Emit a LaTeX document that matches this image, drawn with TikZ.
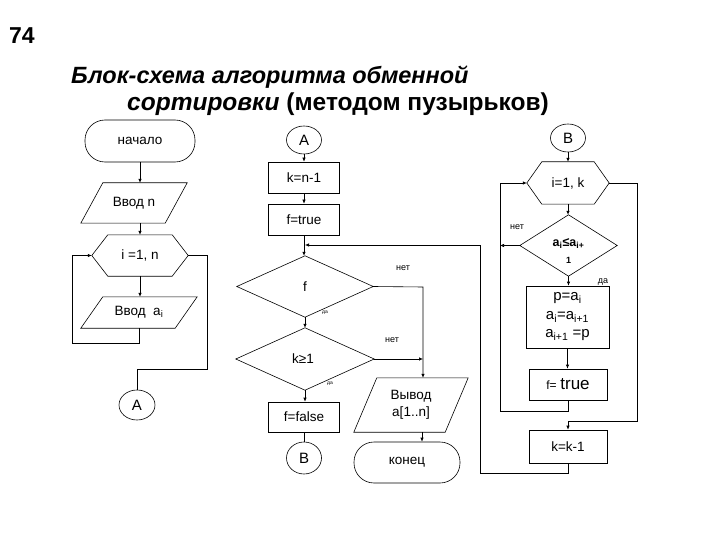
\documentclass[tikz,border=0pt]{standalone}
\usepackage{fontspec}
\setmainfont{Liberation Sans}
\usetikzlibrary{shapes.geometric,arrows.meta}
\newcommand\drawpar[2]{\draw[ln] ([xshift=#2]#1.north west) -- (#1.north east) -- ([xshift=-#2]#1.south east) -- (#1.south west) -- cycle;}
\newcommand\drawhex[2]{\draw[ln] (#1.west) -- ([xshift=#2]#1.north west) -- ([xshift=-#2]#1.north east) -- (#1.east) -- ([xshift=-#2]#1.south east) -- ([xshift=#2]#1.south west) -- cycle;}
\newcommand\drawdia[1]{\draw[ln] (#1.north) -- (#1.east) -- (#1.south) -- (#1.west) -- cycle;}
\tikzset{
  ln/.style={line width=0.6pt},
  arr/.style={ln,-{Latex[length=4pt,width=3.4pt]}},
  bfont/.style={font=\fontsize{13.5}{17}\selectfont},
  blk/.style={draw,ln,rectangle,inner sep=0pt,align=center,bfont},
  term/.style={blk,rounded corners=20pt},
  ghost/.style={rectangle,inner sep=0pt,align=center,bfont},
  conn/.style={draw,ln,ellipse,inner sep=0pt,font=\fontsize{15}{17}\selectfont},
  lbl/.style={inner sep=0pt,font=\fontsize{9}{10}\selectfont},
  tinylbl/.style={inner sep=0pt,font=\fontsize{5}{6}\selectfont},
}
\begin{document}
\begin{tikzpicture}[x=1pt,y=-1pt]
\useasboundingbox (0,0) rectangle (720,540);
% titles
\node[anchor=west,inner sep=0pt,font=\bfseries\fontsize{23}{26}\selectfont] (num) at (9,36) {74};
\node[anchor=west,inner sep=0pt,font=\bfseries\itshape\fontsize{23.5}{27}\selectfont] (t1) at (71,77) {Блок-схема алгоритма обменной};
\node[anchor=west,inner sep=0pt,font=\bfseries\fontsize{24.5}{27}\selectfont] (t2) at (127,104) {{\itshape сортировки} (методом пузырьков)};

% left column
\node[term,minimum width=110pt,minimum height=42pt] (start) at (140,141) {начало};
\node[ghost,minimum width=106pt,minimum height=40pt] (inN) at (134,203) {Ввод n};
\drawpar{inN}{22pt}
\node[ghost,minimum width=96pt,minimum height=41pt] (hexL) at (140,255.5) {i =1, n};
\drawhex{hexL}{16pt}
\node[ghost,minimum width=116pt,minimum height=31pt] (inA) at (139,312.5) {Ввод\ \ a\textsubscript{i}};
\drawpar{inA}{22pt}
\node[conn,minimum width=36pt,minimum height=30pt] (conA1) at (137,405) {A};
\coordinate (lpB) at (72,343);
\coordinate (rA) at (207,369);

% middle column
\node[conn,minimum width=35pt,minimum height=28pt] (conA2) at (304,140) {A};
\node[blk,minimum width=71pt,minimum height=31pt] (kn1) at (304,177.5) {k=n-1};
\node[blk,minimum width=71pt,minimum height=31pt] (ftrue) at (304,219.5) {f=true};
\node[ghost,minimum width=136pt,minimum height=61pt] (dF) at (305,286.5) {f};
\drawdia{dF}
\node[ghost,minimum width=138pt,minimum height=62pt] (dK) at (305,359) {k≥1\hspace*{4pt}};
\drawdia{dK}
\node[blk,minimum width=71pt,minimum height=30pt] (ffalse) at (304,417) {f=false};
\node[conn,minimum width=35pt,minimum height=32pt] (conB1) at (304,458) {B};
\node[ghost,minimum width=114pt,minimum height=54pt] (out) at (411,405) {Вывод\\a[1..n]};
\drawpar{out}{23pt}
\node[term,minimum width=106pt,minimum height=41pt] (end) at (407,462.5) {конец};
\coordinate (vx) at (423,287);
\coordinate (ret) at (480,245);
\coordinate (kkb) at (480,473);

% right column
\node[conn,minimum width=35pt,minimum height=28pt] (conB2) at (568,138) {B};
\node[ghost,minimum width=82pt,minimum height=42pt] (hexR) at (568,183) {i=1, k};
\drawhex{hexR}{15pt}
\node[ghost,minimum width=97pt,minimum height=61pt] (dA) at (568.5,245.5) {};
\drawdia{dA}
\node[inner sep=0pt,align=center,font=\bfseries\fontsize{12.5}{17}\selectfont] (dAt) at (568.5,251) {a\textsubscript{i}≤a\textsubscript{i+}\\{\fontsize{9}{10}\selectfont 1}};
\node[blk,minimum width=83pt,minimum height=62pt,font=\fontsize{15}{18.5}\selectfont] (pbox) at (567.5,317) {p=a\textsubscript{i}\\a\textsubscript{i}=a\textsubscript{i+1}\\a\textsubscript{i+1} =p};
\node[blk,minimum width=78pt,minimum height=31pt] (ft2) at (568,384.5) {{\fontsize{12}{14}\selectfont f=} {\fontsize{17}{19}\selectfont true}};
\node[blk,minimum width=78pt,minimum height=33pt] (kk) at (568,446.5) {k=k-1};
\coordinate (il) at (500,411);
\coordinate (orr) at (637,421);

% labels
\node[lbl] (n1) at (517,227) {нет};
\node[lbl] (d1) at (603,282) {да};
\node[lbl] (n2) at (403,268) {нет};
\node[lbl] (n3) at (392,340) {нет};
\node[tinylbl] (d2) at (325,313) {да};
\node[tinylbl] (d3) at (330,384) {да};

% connectors left
\draw[arr] (start.south) -- (start.south |- inN.north);
\draw[arr] (start.south |- inN.south) -- (start.south |- hexL.north);
\draw[arr] (hexL.south) -- (hexL.south |- inA.north);
\draw[arr] (inA.south) |- (lpB) |- (hexL.west);
\draw[ln] (hexL.east) -| (rA) -| (conA1.north);

% connectors middle
\draw[arr] (conA2.south) -- (conA2.south |- kn1.north);
\draw[arr] (kn1.south) -- (ftrue.north);
\draw[arr] (ftrue.south) -- (ftrue.south |- dF.north);
\draw[arr] (dF.south) -- (dF.south |- dK.north);
\draw[arr] (dK.south) -- (dK.south |- ffalse.north);
\draw[ln] (ffalse.south) -- (conB1.north);
\draw[arr] (dF.east) -- (vx) -- (vx |- out.north);
\draw[arr] (dK.east) -- (dK.east -| vx);
\draw[arr] ([xshift=-1pt]vx |- out.south) -- ([xshift=-1pt]vx |- end.north);

% connectors right
\draw[arr] (conB2.south) -- (conB2.south |- hexR.north);
\draw[arr] (hexR.south) -- (hexR.south |- dA.north);
\draw[arr] (dA.west) -- (dA.west -| il);
\draw[arr] (dA.south) -- (dA.south |- pbox.north);
\draw[arr] (pbox.south) -- (pbox.south |- ft2.north);
\draw[arr] (ft2.south) |- (il) |- (hexR.west);
\draw[arr] (hexR.east) -| (orr) -| (kk.north);
\draw[arr] (kk.south) |- (kkb) -- (ret) -- (ret -| dF.north);
\end{tikzpicture}
\end{document}
